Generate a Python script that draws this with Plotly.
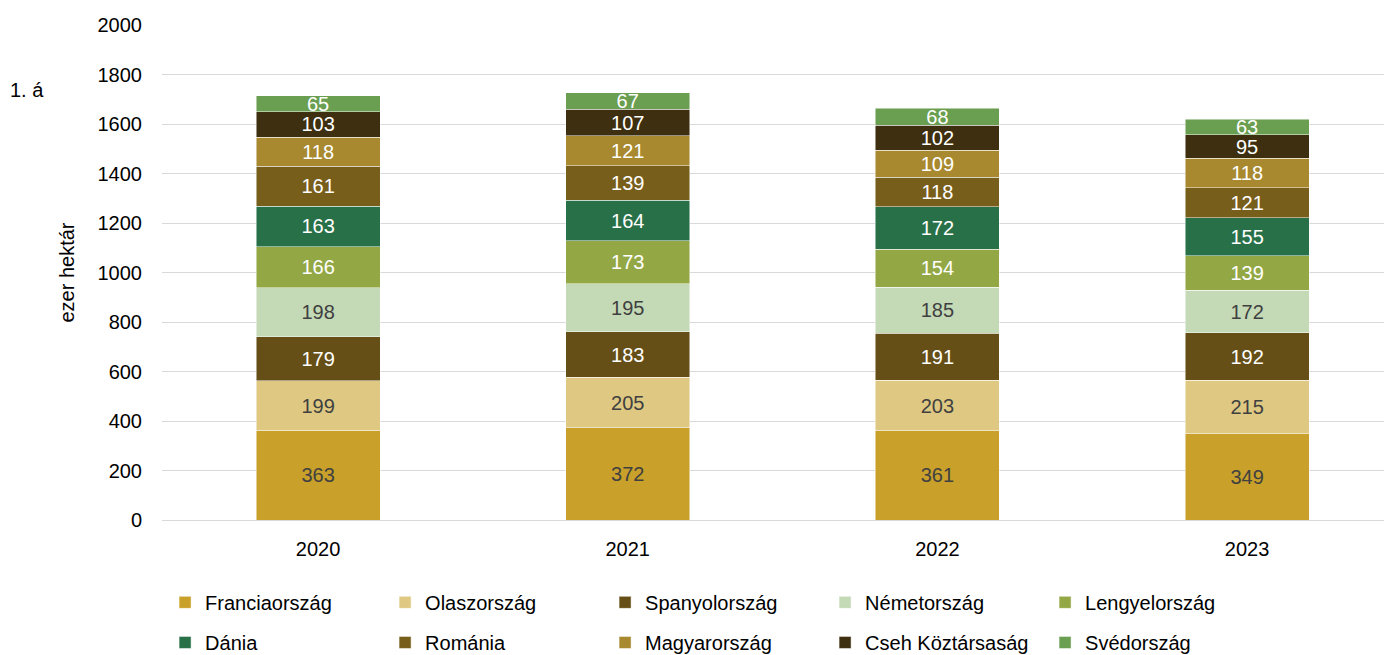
import plotly.graph_objects as go

years = ["2020", "2021", "2022", "2023"]

countries = ["Franciaország", "Olaszország", "Spanyolország", "Németország", "Lengyelország",
             "Dánia", "Románia", "Magyarország", "Cseh Köztársaság", "Svédország"]

franciaorszag = [363, 372, 361, 349]
olaszorszag = [199, 205, 203, 215]
spanyolorszag = [179, 183, 191, 192]
nemetorszag = [198, 195, 185, 172]
lengyelorszag = [166, 173, 154, 139]
dania = [163, 164, 172, 155]
romania = [161, 139, 118, 121]
magyarorszag = [118, 121, 109, 118]
cseh = [103, 107, 102, 95]
svedorszag = [65, 67, 68, 63]

series = [franciaorszag, olaszorszag, spanyolorszag, nemetorszag, lengyelorszag,
          dania, romania, magyarorszag, cseh, svedorszag]

colors = ["#C9A12A", "#DFC982", "#654F16", "#C4DAB6", "#93A845",
          "#287148", "#785E1B", "#A8892F", "#3D2F0F", "#6A9E50"]
label_colors = ["#404040", "#404040", "white", "#404040", "white",
                "white", "white", "white", "white", "white"]

FONT = "Arial, Liberation Sans, sans-serif"

fig = go.Figure()

for i, (name, vals) in enumerate(zip(countries, series)):
    fig.add_trace(go.Bar(
        x=years, y=vals, name=name,
        marker=dict(color=colors[i], line=dict(color="rgba(255,255,255,0.6)", width=0.8)),
        text=[str(v) for v in vals],
        textposition="inside",
        insidetextanchor="middle",
        textfont=dict(color=label_colors[i], size=20, family=FONT),
        legend="legend" if i < 5 else "legend2",
        hoverinfo="name+y",
    ))

# page body has an 8px margin, so the figure is a bit smaller than the window
fig.update_layout(
    barmode="stack",
    bargap=0.6,
    width=1384, height=647,
    margin=dict(l=154, r=0, t=17, b=135, autoexpand=False),
    plot_bgcolor="white",
    paper_bgcolor="white",
    font=dict(family=FONT, size=20, color="black"),
    uniformtext=dict(minsize=20, mode="show"),
    xaxis=dict(
        range=[-0.504, 3.468],
        showgrid=False, zeroline=False,
        showline=True, linecolor="#D9D9D9", linewidth=1,
        ticks="", tickfont=dict(size=20), automargin=False,
        ticklabelstandoff=11,
    ),
    yaxis=dict(
        range=[0, 2000], dtick=200,
        showgrid=True, gridcolor="#D9D9D9", gridwidth=1,
        zeroline=False, showline=False,
        tickfont=dict(size=20),
        ticklabelstandoff=19,
        automargin=False,
        title=dict(text="ezer hektár", font=dict(size=20), standoff=17),
    ),
    legend=dict(
        orientation="h", x=0.0025, xanchor="left", y=-0.127, yanchor="top",
        entrywidth=175, entrywidthmode="pixels",
        font=dict(size=20), traceorder="normal",
    ),
    legend2=dict(
        orientation="h", x=0.0025, xanchor="left", y=-0.208, yanchor="top",
        entrywidth=175, entrywidthmode="pixels",
        font=dict(size=20), traceorder="normal",
    ),
    annotations=[dict(
        text="1. á", xref="paper", yref="paper", x=-0.125, y=0.869,
        xanchor="left", yanchor="middle", showarrow=False,
        font=dict(size=20),
    )],
)

fig.write_html("out.html")
